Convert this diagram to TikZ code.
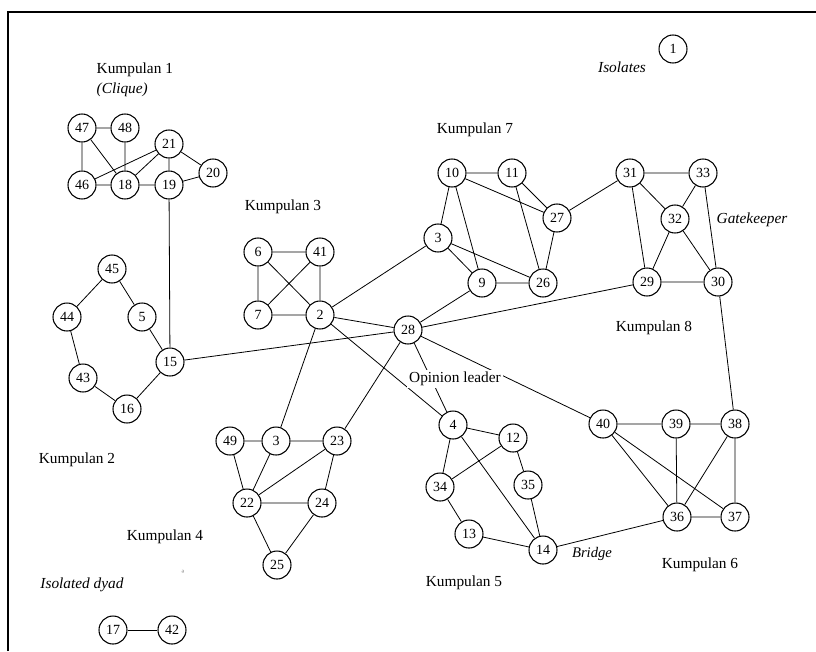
\documentclass[tikz,border=0pt]{standalone}
\usepackage{fontspec}
\setmainfont{Liberation Serif}
\begin{document}
\begin{tikzpicture}[x=0.75pt,y=-0.75pt,
    vertex/.style={circle, draw, thick, fill=white, minimum size=21pt, inner sep=0pt, font=\fontsize{10.5}{10.5}\selectfont},
    tie/.style={semithick},
    grouptext/.style={font=\fontsize{11.5}{13}\selectfont},
    roletext/.style={font=\fontsize{11.5}{13}\selectfont\itshape}]
    \useasboundingbox (0,0) rectangle (816,651);
    % frame of the scanned page
    \draw[line width=1.2pt] (8,651) -- (8,12) -- (816,12);
    % Kumpulan 1
    \node[vertex] (n47) at (82,128) {47};
    \node[vertex] (n48) at (125,128) {48};
    \node[vertex] (n21) at (169,144) {21};
    \node[vertex] (n46) at (82,185) {46};
    \node[vertex] (n18) at (125,185) {18};
    \node[vertex] (n19) at (169,185) {19};
    \node[vertex] (n20) at (213,173) {20};
    % Kumpulan 2
    \node[vertex] (n45) at (112,269) {45};
    \node[vertex] (n44) at (67,317) {44};
    \node[vertex] (n5) at (142,317) {5};
    \node[vertex] (n43) at (83,378) {43};
    \node[vertex] (n16) at (127,409) {16};
    \node[vertex] (n15) at (170,362) {15};
    % Kumpulan 3
    \node[vertex] (n6) at (258,252) {6};
    \node[vertex] (n41) at (320,252) {41};
    \node[vertex] (n7) at (258,315) {7};
    \node[vertex] (n2) at (320,315) {2};
    \node[vertex] (n28) at (408,330) {28};
    % Kumpulan 4
    \node[vertex] (n49) at (230,441) {49};
    \node[vertex] (n3b) at (276,441) {3};
    \node[vertex] (n23) at (337,441) {23};
    \node[vertex] (n22) at (247,503) {22};
    \node[vertex] (n24) at (322,503) {24};
    \node[vertex] (n25) at (277,565) {25};
    % Kumpulan 5
    \node[vertex] (n4) at (453,425) {4};
    \node[vertex] (n12) at (513,438) {12};
    \node[vertex] (n34) at (440,487) {34};
    \node[vertex] (n35) at (528,485) {35};
    \node[vertex] (n13) at (469,534) {13};
    \node[vertex] (n14) at (543,550) {14};
    % Kumpulan 6
    \node[vertex] (n40) at (603,424) {40};
    \node[vertex] (n39) at (676,424) {39};
    \node[vertex] (n38) at (735,424) {38};
    \node[vertex] (n36) at (677,517) {36};
    \node[vertex] (n37) at (735,517) {37};
    % Kumpulan 7
    \node[vertex] (n10) at (452,173) {10};
    \node[vertex] (n11) at (512,173) {11};
    \node[vertex] (n27) at (557,218) {27};
    \node[vertex] (n3a) at (438,238) {3};
    \node[vertex] (n9) at (482,283) {9};
    \node[vertex] (n26) at (543,283) {26};
    % Kumpulan 8
    \node[vertex] (n31) at (630,173) {31};
    \node[vertex] (n33) at (703,173) {33};
    \node[vertex] (n32) at (675,219) {32};
    \node[vertex] (n29) at (647,282) {29};
    \node[vertex] (n30) at (718,282) {30};
    % isolates and dyad
    \node[vertex] (n1) at (673,49) {1};
    \node[vertex] (n17) at (113,630) {17};
    \node[vertex] (n42) at (172,630) {42};
    % ties inside the groups
    \draw[tie] (n47) -- (n48) (n47) -- (n46) (n47) -- (n18) (n48) -- (n18);
    \draw[tie] (n46) -- (n18) -- (n19) -- (n20) -- (n21);
    \draw[tie] (n21) -- (n46) (n21) -- (n18) (n21) -- (n19);
    \draw[tie] (n45) -- (n44) -- (n43) -- (n16) -- (n15) -- (n5) -- (n45);
    \draw[tie] (n6) -- (n41) -- (n2) -- (n7) -- (n6) (n6) -- (n2) (n41) -- (n7);
    \draw[tie] (n49) -- (n3b) -- (n23) -- (n24) -- (n25) -- (n22) -- (n49);
    \draw[tie] (n3b) -- (n22) -- (n23) (n22) -- (n24);
    \draw[tie] (n4) -- (n12) -- (n35) -- (n14) -- (n13) -- (n34) -- (n4);
    \draw[tie] (n12) -- (n34) (n4) -- (n14);
    \draw[tie] (n40) -- (n39) -- (n38) -- (n37) -- (n36) -- (n40);
    \draw[tie] (n40) -- (n37) (n39) -- (n36) (n38) -- (n36);
    \draw[tie] (n10) -- (n11) -- (n27) -- (n26) -- (n9) -- (n3a) -- (n10);
    \draw[tie] (n10) -- (n27) (n10) -- (n9) (n11) -- (n26) (n3a) -- (n26);
    \draw[tie] (n31) -- (n33) -- (n30) -- (n29) -- (n31);
    \draw[tie] (n31) -- (n32) (n33) -- (n32) (n32) -- (n29) (n32) -- (n30);
    \draw[tie] (n17) -- (n42);
    % ties between the groups
    \draw[tie] (n19) -- (n15) (n15) -- (n28) -- (n29);
    \draw[tie] (n2) -- (n28) (n2) -- (n3a) (n2) -- (n3b) (n2) -- (n4);
    \draw[tie] (n28) -- (n9) (n28) -- (n23) (n28) -- (n4) (n28) -- (n40);
    \draw[tie] (n27) -- (n31) (n30) -- (n38) (n14) -- (n36);
    % group names and roles
    \node[grouptext, anchor=west] (t1) at (92,70) {Kumpulan 1};
    \node[roletext, anchor=west] (t1c) at (92,90) {(Clique)};
    \node[grouptext] (t2) at (77,460) {Kumpulan 2};
    \node[grouptext] (t3) at (283,207) {Kumpulan 3};
    \node[grouptext] (t4) at (165,537) {Kumpulan 4};
    \node[grouptext] (t5) at (464,583) {Kumpulan 5};
    \node[grouptext] (t6) at (700,565) {Kumpulan 6};
    \node[grouptext] (t7) at (475,130) {Kumpulan 7};
    \node[grouptext] (t8) at (654,328) {Kumpulan 8};
    \node[roletext] (tiso) at (622,67) {Isolates};
    \node[roletext] (tgate) at (752,220) {Gatekeeper};
    \node[roletext] (tdyad) at (82,585) {Isolated dyad};
    \node[grouptext, fill=white, inner sep=1.5pt] (tlead) at (455,379) {Opinion leader};
    \node[font=\fontsize{11}{11}\selectfont\itshape] (tbridge) at (592,554) {Bridge};
    \node[font=\scriptsize, gray] (tmark) at (183,573) {ª};
\end{tikzpicture}
\end{document}
